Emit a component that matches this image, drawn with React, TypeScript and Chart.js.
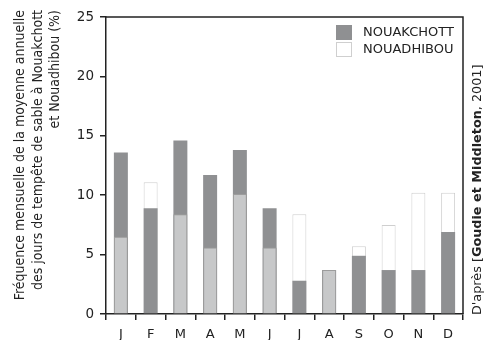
import React, { useEffect, useRef } from 'react';
import { Chart, registerables } from 'chart.js';
Chart.register(...registerables);

const months = ['J', 'F', 'M', 'A', 'M', 'J', 'J', 'A', 'S', 'O', 'N', 'D'];
const nouakchott = [13.6, 8.9, 14.6, 11.7, 13.8, 8.9, 2.8, 3.7, 4.9, 3.7, 3.7, 6.9];
const nouadhibou = [6.5, 11.1, 8.4, 5.6, 10.1, 5.6, 8.4, 3.7, 5.7, 7.5, 10.2, 10.2];
const yTitle = [
  'Fréquence mensuelle de la moyenne annuelle',
  'des jours de tempête de sable à Nouakchott',
  'et Nouadhibou (%)',
];
const seriesNames = ['NOUAKCHOTT', 'NOUADHIBOU'];
const sourceParts = ["D'après [", 'Goudie et Middleton', ', 2001]'];

const DARK = '#8f9092';
const LIGHT = '#c7c8c9';
const LIGHT_BORDER = '#9c9c9c';
const WHITE_BORDER = '#cfcfcf';
const AXIS = '#222222';
const FONT = "'DejaVu Sans', Verdana, sans-serif";
const TITLE_FONT = "'DejaVu Sans Condensed', 'DejaVu Sans', sans-serif";

const decorPlugin = {
  id: 'decor',
  afterDraw(chart: any) {
    const { ctx, chartArea } = chart;
    const { left, right, top, bottom } = chartArea;
    ctx.save();
    // top & right frame
    ctx.strokeStyle = AXIS;
    ctx.lineWidth = 1.5;
    ctx.beginPath();
    ctx.moveTo(left, top);
    ctx.lineTo(right, top);
    ctx.lineTo(right, bottom);
    ctx.stroke();

    // legend
    const fills = [DARK, '#ffffff'];
    const strokes = [DARK, WHITE_BORDER];
    const bx = right - 127;
    seriesNames.forEach((name, i) => {
      const by = top + 8 + i * 17;
      ctx.fillStyle = fills[i];
      ctx.fillRect(bx, by, 16, 15);
      ctx.strokeStyle = strokes[i];
      ctx.lineWidth = 1;
      ctx.strokeRect(bx + 0.5, by + 0.5, 15, 14);
      ctx.fillStyle = '#222';
      ctx.font = '13px ' + FONT;
      ctx.textBaseline = 'middle';
      ctx.textAlign = 'left';
      ctx.fillText(name, bx + 27, by + 8);
    });
    ctx.restore();

    // y-axis title (rotated, end-aligned toward the top)
    ctx.save();
    ctx.translate(0, 10);
    ctx.rotate(-Math.PI / 2);
    ctx.textBaseline = 'middle';
    ctx.textAlign = 'right';
    ctx.fillStyle = '#222';
    ctx.font = '14px ' + TITLE_FONT;
    const xs = [20, 38, 55];
    yTitle.forEach((line, i) => {
      ctx.fillText(line, 0, xs[i]);
    });
    ctx.restore();

    // source text (rotated)
    ctx.save();
    ctx.translate(478, 315);
    ctx.rotate(-Math.PI / 2);
    ctx.textBaseline = 'middle';
    ctx.textAlign = 'left';
    ctx.fillStyle = '#222';
    let x = 0;
    sourceParts.forEach((p, i) => {
      ctx.font = (i === 1 ? 'bold ' : '') + '12.8px ' + FONT;
      ctx.fillText(p, x, 0);
      x += ctx.measureText(p).width;
    });
    ctx.restore();
  },
};

export default function App() {
  const ref = useRef<HTMLCanvasElement>(null);
  useEffect(() => {
    if (!ref.current) return;
    const chart = new Chart(ref.current, {
      type: 'bar',
      data: {
        labels: months,
        datasets: [
          {
            label: seriesNames[1] + ' overlay',
            data: nouadhibou,
            order: 0,
            grouped: false,
            backgroundColor: (c: any) =>
              nouadhibou[c.dataIndex] <= nouakchott[c.dataIndex] ? LIGHT : 'rgba(0,0,0,0)',
            borderColor: (c: any) =>
              nouadhibou[c.dataIndex] <= nouakchott[c.dataIndex] ? LIGHT_BORDER : 'rgba(0,0,0,0)',
            borderWidth: 1,
            barPercentage: 0.47,
            categoryPercentage: 1,
          } as any,
          {
            label: seriesNames[0],
            data: nouakchott,
            order: 1,
            grouped: false,
            backgroundColor: DARK,
            borderWidth: 0,
            barPercentage: 0.47,
            categoryPercentage: 1,
          } as any,
          {
            label: seriesNames[1],
            data: nouadhibou,
            order: 2,
            grouped: false,
            backgroundColor: '#ffffff',
            borderColor: WHITE_BORDER,
            borderWidth: 1,
            barPercentage: 0.47,
            categoryPercentage: 1,
          } as any,
        ],
      },
      options: {
        animation: false,
        responsive: true,
        maintainAspectRatio: false,
        layout: { padding: { top: 17, right: 21, bottom: 0, left: 0 } },
        plugins: { legend: { display: false }, tooltip: { enabled: false } },
        scales: {
          x: {
            grid: {
              offset: true,
              drawOnChartArea: false,
              drawTicks: true,
              tickLength: 6,
              color: AXIS,
              lineWidth: 1.5,
            },
            border: { color: AXIS, width: 1.5 },
            ticks: { font: { family: FONT, size: 13 }, color: '#222', padding: 7 },
            afterFit: (s: any) => {
              s.height = 26;
            },
          },
          y: {
            min: 0,
            max: 25,
            grid: {
              drawOnChartArea: false,
              drawTicks: true,
              tickLength: 6,
              color: AXIS,
              lineWidth: 1.5,
            },
            border: { color: AXIS, width: 1.5 },
            ticks: {
              stepSize: 5,
              font: { family: FONT, size: 13.5 },
              color: '#222',
              padding: 6,
            },
            title: { display: false },
            afterFit: (s: any) => {
              s.width = 106;
            },
          },
        },
      },
      plugins: [decorPlugin],
    });
    return () => chart.destroy();
  }, []);
  return (
    <div style={{ position: 'fixed', left: 0, top: 0, width: 484, height: 340, background: '#fff' }}>
      <canvas ref={ref} />
    </div>
  );
}
